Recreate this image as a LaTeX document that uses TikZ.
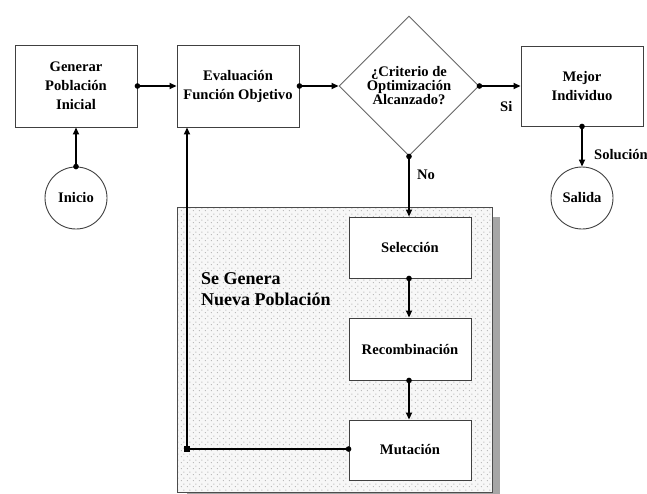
\documentclass[tikz,border=0pt]{standalone}
\usepackage{fontspec}
\setmainfont{Liberation Serif}
\usetikzlibrary{arrows.meta,shapes.geometric,patterns.meta}

% staggered grey dot fill for the population panel
\tikzdeclarepattern{
  name=finedots,
  type=uncolored,
  bottom left={(0pt,0pt)},
  top right={(6pt,6pt)},
  tile size={(6pt,6pt)},
  code={
    \fill (1.5pt,1.5pt) circle (0.6pt);
    \fill (4.5pt,4.5pt) circle (0.6pt);
  }
}

\tikzset{
  stepbox/.style={draw=black!75, line width=0.9pt, fill=white, rectangle,
    minimum width=122pt, inner sep=0pt, align=center,
    font=\fontsize{14.6pt}{19pt}\selectfont\bfseries},
  termnode/.style={draw=black!75, line width=0.9pt, fill=white, circle,
    minimum size=62pt, inner sep=0pt,
    font=\fontsize{14.6pt}{19pt}\selectfont\bfseries},
  decision/.style={draw=black!60, line width=0.9pt, fill=white, diamond,
    aspect=1, minimum width=140pt, minimum height=140pt, inner sep=0pt,
    align=center, font=\fontsize{14.6pt}{14pt}\selectfont\bfseries},
  conn/.style={line width=1.6pt, black, -{Triangle[length=7pt,width=6pt]}},
  lbl/.style={font=\fontsize{14.6pt}{15pt}\selectfont\bfseries, inner sep=0pt}
}
% start dot of a connector
\newcommand\startdot[1]{\fill (#1) circle (2.8pt);}

\begin{document}
\begin{tikzpicture}[x=1pt,y=-1pt]
\useasboundingbox (0,0) rectangle (647,493);
\fill[white] (0,0) rectangle (647,493);

% population panel with its drop shadow
\fill[black!35] (492,217) rectangle (500,500);
\fill[black!35] (187,492) rectangle (500,500);
\fill[black!3] (177,207) rectangle (492,492);
\fill[pattern={finedots}, pattern color=black!35] (177,207) rectangle (492,492);
\draw[black!70, line width=0.8pt] (177,207) rectangle (492,492);
\node[lbl, anchor=west, align=left, font=\fontsize{18pt}{21pt}\selectfont\bfseries]
  (pop) at (201,289) {Se Genera\\Nueva Población};

% main flow
\node[stepbox, minimum height=82pt] (gen) at (76,86) {Generar\\Población\\Inicial};
\node[stepbox, minimum height=82pt] (eval) at (238,86) {Evaluación\\Función Objetivo};
\node[decision] (dia) at (409,86) {¿Criterio de\\Optimización\\Alcanzado?};
\node[stepbox, minimum height=80pt] (best) at (582,86) {Mejor\\Individuo};
\node[termnode] (ini) at (76,198) {Inicio};
\node[termnode] (sal) at (582,198) {Salida};

% genetic operators
\node[stepbox, minimum height=61pt] (sel) at (410,247.5) {Selección};
\node[stepbox, minimum height=62pt] (rec) at (410,349) {Recombinación};
\node[stepbox, minimum height=60pt] (mut) at (410,450) {Mutación};

% connectors
\draw[conn] (ini.north) -- (gen.south);
\draw[conn] (gen.east) -- (eval.west);
\draw[conn] (eval.east) -- (dia.west);
\draw[conn] (dia.east) -- (best.west);
\draw[conn] (best.south) -- (sal.north);
\draw[conn] (dia.south) -- (dia.south |- sel.north);
\draw[conn] (sel.south -| dia.south) -- (rec.north -| dia.south);
\draw[conn] (rec.south -| dia.south) -- (mut.north -| dia.south);
\startdot{ini.north}
\startdot{gen.east}
\startdot{eval.east}
\startdot{dia.east}
\startdot{best.south}
\startdot{dia.south}
\startdot{sel.south -| dia.south}
\startdot{rec.south -| dia.south}

% feedback loop from mutation back to evaluation
\coordinate (corner) at (187,449);
\draw[line width=1.6pt] (mut.west |- corner) -- (corner);
\draw[conn] (corner) -- (corner |- eval.south);
\startdot{mut.west |- corner}
\fill (corner) +(-3,-3) rectangle +(3,3);

% branch labels
\node[lbl, anchor=west] (si) at (500,107) {Si};
\node[lbl, anchor=west] (no) at (417,175) {No};
\node[lbl, anchor=west] (sol) at (594,155) {Solución};
\end{tikzpicture}
\end{document}
